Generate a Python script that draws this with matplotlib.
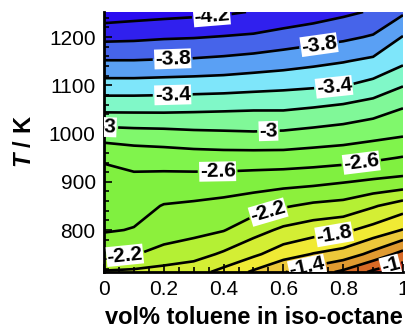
import numpy as np
import matplotlib
matplotlib.use("Agg")
import matplotlib.pyplot as plt
from matplotlib.ticker import MultipleLocator

plt.rcParams['font.family'] = ['Liberation Sans', 'DejaVu Sans']
plt.rcParams['mathtext.fontset'] = 'custom'
plt.rcParams['mathtext.bfit'] = 'Liberation Sans:italic:bold'

# toluene fraction (columns) and temperature (rows)
toluene = [0.0, 0.1, 0.2, 0.3, 0.4, 0.5, 0.6, 0.7, 0.8, 0.9, 1.0]
temps = [713, 750, 800, 850, 900, 950, 1000, 1050, 1100, 1150, 1200, 1252]

# log ignition delay, one row per temperature
log_tau = [
    [-1.98, -1.96, -1.92, -1.88, -1.74, -1.57, -1.41, -1.30, -1.16, -0.96, -0.85],
    [-2.23, -2.21, -2.14, -2.08, -1.97, -1.84, -1.69, -1.59, -1.52, -1.34, -1.13],
    [-2.42, -2.39, -2.29, -2.26, -2.21, -2.08, -1.96, -1.89, -1.84, -1.73, -1.59],
    [-2.48, -2.47, -2.39, -2.37, -2.34, -2.29, -2.22, -2.16, -2.13, -2.02, -1.90],
    [-2.54, -2.55, -2.53, -2.52, -2.51, -2.49, -2.47, -2.45, -2.41, -2.37, -2.34],
    [-2.62, -2.67, -2.69, -2.71, -2.72, -2.72, -2.72, -2.70, -2.68, -2.64, -2.59],
    [-2.91, -2.93, -2.94, -2.96, -2.97, -2.98, -2.97, -2.94, -2.91, -2.87, -2.83],
    [-3.24, -3.24, -3.24, -3.23, -3.22, -3.21, -3.21, -3.18, -3.14, -3.08, -2.99],
    [-3.52, -3.52, -3.51, -3.50, -3.49, -3.47, -3.45, -3.43, -3.41, -3.34, -3.21],
    [-3.79, -3.79, -3.78, -3.77, -3.75, -3.72, -3.69, -3.65, -3.61, -3.56, -3.44],
    [-4.05, -4.04, -4.02, -4.01, -3.99, -3.97, -3.92, -3.88, -3.84, -3.78, -3.59],
    [-4.32, -4.29, -4.27, -4.25, -4.23, -4.19, -4.15, -4.10, -4.04, -3.98, -3.83],
]

levels = [-4.4, -4.2, -4.0, -3.8, -3.6, -3.4, -3.2, -3.0, -2.8, -2.6,
          -2.4, -2.2, -2.0, -1.8, -1.6, -1.4, -1.2, -1.0, -0.8]
band_colors = ['#2a0cf0', '#3020ee', '#4664ea', '#5aa0f4', '#7ee6fa', '#80f8c8',
               '#80f898', '#80f86c', '#80f44c', '#80f040', '#8cf03c', '#b4f034',
               '#d4ee34', '#f0ea34', '#ecc83a', '#e09a30', '#d86a26', '#d03c20']

label_levels = [-4.2, -3.8, -3.4, -3.0, -2.6, -2.2, -1.8, -1.4, -1.0]
plain_levels = [-4.0, -3.6, -3.2, -2.8, -2.4, -2.0, -1.6, -1.2]
label_pos = [(0.36, 1248), (0.23, 1150), (0.72, 1181), (0.23, 1077), (0.77, 1090),
             (0.01, 1019), (0.55, 1004), (0.38, 921), (0.86, 942),
             (0.07, 742), (0.55, 835), (0.77, 790), (0.68, 721), (0.96, 721)]

fig = plt.figure(figsize=(4.06, 3.33), dpi=100)
ax = fig.add_axes([104/406, 1-272/333, (403-104)/406, (272-12)/333])

X, Y = np.meshgrid(toluene, temps)
Z = np.array(log_tau)
ax.contourf(X, Y, Z, levels=levels, colors=band_colors)
ax.contour(X, Y, Z, levels=plain_levels, colors='k', linewidths=1.9,
           linestyles='solid')
cs = ax.contour(X, Y, Z, levels=label_levels, colors='k', linewidths=1.9,
                linestyles='solid')
labels = ax.clabel(cs, manual=label_pos, fmt='%g',
                   fontsize=15, inline=True, inline_spacing=2)
for t in labels:
    t.set_fontweight('bold')
    t.set_bbox(dict(facecolor='white', edgecolor='none', pad=0.3))

ax.set_xlim(0, 1)
ax.set_ylim(713, 1252)
ax.set_xticks([0, 0.2, 0.4, 0.6, 0.8, 1])
ax.set_xticklabels(['0', '0.2', '0.4', '0.6', '0.8', '1'])
ax.set_yticks([800, 900, 1000, 1100, 1200])
ax.xaxis.set_minor_locator(MultipleLocator(0.05))
ax.yaxis.set_minor_locator(MultipleLocator(20))
ax.tick_params(which='both', direction='in', labelsize=15, width=1.2)
ax.tick_params(which='major', length=6, pad=6)
ax.tick_params(which='minor', length=3.5)
ax.spines['top'].set_visible(False)
ax.spines['right'].set_visible(False)
ax.spines['left'].set_linewidth(2)
ax.spines['bottom'].set_linewidth(2)

ax.set_xlabel('vol% toluene in iso-octane', fontsize=17, fontweight='bold', labelpad=5)
ax.set_ylabel(r'$\mathbfit{T}$ / K', fontsize=17, fontweight='bold', labelpad=9)

fig.savefig('out.png', dpi=100)
